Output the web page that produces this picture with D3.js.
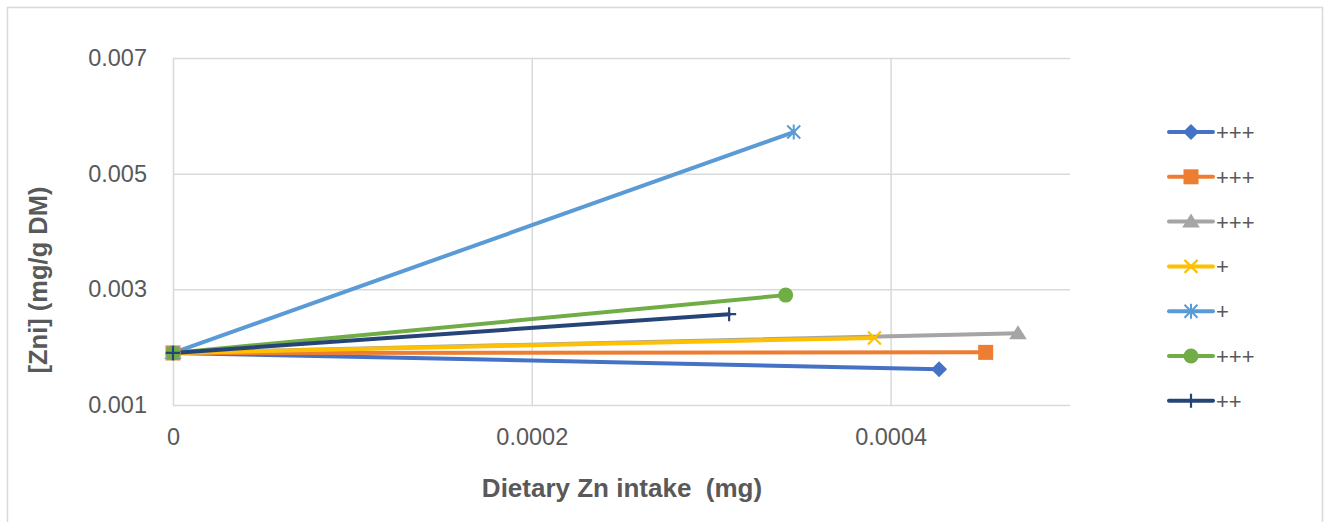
<!DOCTYPE html>
<html>
<head>
<meta charset="utf-8">
<script src="https://cdn.jsdelivr.net/npm/d3@7"></script>
<style>
  html, body { margin: 0; padding: 0; background: #fff; }
  svg { display: block; }
</style>
</head>
<body>
<svg id="chart" width="1330" height="522"></svg>
<script>
// ---- Data ----
const seriesNames = ["+++", "+++", "+++", "+", "+", "+++", "++"];
const seriesColors = ["#4472C4", "#ED7D31", "#A5A5A5", "#FFC000", "#5B9BD5", "#70AD47", "#264478"];
const seriesMarkers = ["diamond", "square", "triangle", "x", "star", "circle", "plus"];
const startX = [0, 0, 0, 0, 0, 0, 0];
const startY = [0.0019, 0.0019, 0.0019, 0.0019, 0.0019, 0.0019, 0.0019];
const endX = [0.000427, 0.000453, 0.000471, 0.000391, 0.000346, 0.0003415, 0.00031];
const endY = [0.00162, 0.00191, 0.00224, 0.00216, 0.00572, 0.00290, 0.00257];
const xTicks = [0, 0.0002, 0.0004];
const xTickLabels = ["0", "0.0002", "0.0004"];
const yTicks = [0.001, 0.003, 0.005, 0.007];
const yTickLabels = ["0.001", "0.003", "0.005", "0.007"];
const xTitle = "Dietary Zn intake\u00A0 (mg)";
const yTitle = "[Zni] (mg/g DM)";

// ---- Layout ----
const svg = d3.select("#chart");
const W = 1330, H = 522;
const plot = { left: 173, right: 1070, top: 58, bottom: 405 };
const textColor = "#595959";
const gridColor = "#d9d9d9";
const font = "'Liberation Sans', Arial, sans-serif";

svg.append("rect").attr("x", 0).attr("y", 0).attr("width", W).attr("height", H).attr("fill", "#fff");
// chart border
svg.append("path")
  .attr("d", `M7.5,${H + 2} V7.5 H1322.5 V${H + 2}`)
  .attr("fill", "none").attr("stroke", gridColor).attr("stroke-width", 1.5);

const x = d3.scaleLinear().domain([0, 0.0005]).range([plot.left, plot.right]);
const y = d3.scaleLinear().domain([0.001, 0.007]).range([plot.bottom, plot.top]);

// gridlines horizontal
const gY = svg.append("g").attr("transform", `translate(${plot.left},0)`)
  .call(d3.axisLeft(y).tickValues(yTicks).tickSize(-(plot.right - plot.left)).tickFormat((d, i) => yTickLabels[i]).tickPadding(26));
gY.select(".domain").remove();
gY.selectAll(".tick line").attr("stroke", gridColor).attr("stroke-width", 1.5);
gY.selectAll(".tick text").attr("fill", textColor).style("font-family", font).style("font-size", "23.5px");

// vertical gridlines
const gX = svg.append("g").attr("transform", `translate(0,${plot.bottom})`)
  .call(d3.axisBottom(x).tickValues(xTicks).tickSize(-(plot.bottom - plot.top)).tickFormat((d, i) => xTickLabels[i]).tickPadding(23));
gX.select(".domain").remove();
gX.selectAll(".tick line").attr("stroke", gridColor).attr("stroke-width", 1.5);
gX.selectAll(".tick text").attr("fill", textColor).style("font-family", font).style("font-size", "23.5px");

// axis titles
svg.append("text")
  .attr("x", 622).attr("y", 497)
  .attr("text-anchor", "middle")
  .attr("fill", textColor).style("font-family", font).style("font-size", "26px").style("font-weight", "bold")
  .text(xTitle);
svg.append("text")
  .attr("transform", "translate(47,280) rotate(-90)")
  .attr("text-anchor", "middle")
  .attr("fill", textColor).style("font-family", font).style("font-size", "25.5px").style("font-weight", "bold")
  .text(yTitle);

// markers
function drawMarker(g, type, cx, cy, color, s) {
  s = s || 1;
  if (type === "diamond") {
    const r = 8 * s;
    g.append("path").attr("d", `M${cx},${cy - r} L${cx + r},${cy} L${cx},${cy + r} L${cx - r},${cy} Z`).attr("fill", color);
  } else if (type === "square") {
    const r = 7.5 * s;
    g.append("rect").attr("x", cx - r).attr("y", cy - r).attr("width", 2 * r).attr("height", 2 * r).attr("fill", color);
  } else if (type === "triangle") {
    const r = 8 * s;
    g.append("path").attr("d", `M${cx},${cy - r} L${cx + r * 1.1},${cy + r * 0.75} L${cx - r * 1.1},${cy + r * 0.75} Z`).attr("fill", color);
  } else if (type === "x") {
    const r = 6.5 * s;
    g.append("path").attr("d", `M${cx - r},${cy - r} L${cx + r},${cy + r} M${cx - r},${cy + r} L${cx + r},${cy - r}`)
      .attr("stroke", color).attr("stroke-width", 2.2).attr("fill", "none");
  } else if (type === "star") {
    const r = 6.5 * s;
    g.append("path").attr("d", `M${cx - r},${cy - r} L${cx + r},${cy + r} M${cx - r},${cy + r} L${cx + r},${cy - r} M${cx},${cy - r - 1} L${cx},${cy + r + 1}`)
      .attr("stroke", color).attr("stroke-width", 2).attr("fill", "none");
  } else if (type === "circle") {
    g.append("circle").attr("cx", cx).attr("cy", cy).attr("r", 7.5 * s).attr("fill", color);
  } else if (type === "plus") {
    const r = 7 * s;
    g.append("path").attr("d", `M${cx - r},${cy} L${cx + r},${cy} M${cx},${cy - r} L${cx},${cy + r}`)
      .attr("stroke", color).attr("stroke-width", 2.2).attr("fill", "none");
  }
}

const line = d3.line().x(d => x(d[0])).y(d => y(d[1]));
const gLines = svg.append("g");
const order = [0, 1, 2, 3, 4, 5, 6];
order.forEach(i => {
  const pts = [[startX[i], startY[i]], [endX[i], endY[i]]];
  gLines.append("path").datum(pts).attr("d", line)
    .attr("fill", "none").attr("stroke", seriesColors[i]).attr("stroke-width", 4).attr("stroke-linecap", "round");
});
order.forEach(i => {
  drawMarker(gLines, seriesMarkers[i], x(startX[i]), y(startY[i]), seriesColors[i]);
  drawMarker(gLines, seriesMarkers[i], x(endX[i]), y(endY[i]), seriesColors[i]);
});

// legend
const legend = svg.append("g");
const legY0 = 132, legStep = 44.8;
seriesNames.forEach((name, i) => {
  const cy = legY0 + i * legStep;
  legend.append("line").attr("x1", 1169).attr("x2", 1213).attr("y1", cy).attr("y2", cy)
    .attr("stroke", seriesColors[i]).attr("stroke-width", 4).attr("stroke-linecap", "round");
  drawMarker(legend, seriesMarkers[i], 1191, cy, seriesColors[i]);
  legend.append("text").attr("x", 1216).attr("y", cy + 8)
    .attr("fill", textColor).style("font-family", font).style("font-size", "22px")
    .text(name);
});
</script>
</body>
</html>
